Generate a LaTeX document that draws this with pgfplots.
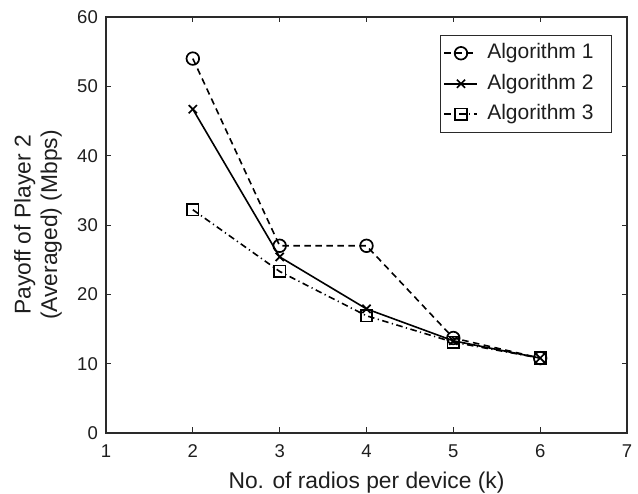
\documentclass[border=0pt]{standalone}
\usepackage{fontspec}
\setmainfont{Liberation Sans}
\usepackage{pgfplots}
\pgfplotsset{compat=1.18}

\definecolor{axisgray}{HTML}{2A2A2A}
\definecolor{textgray}{HTML}{1E1E1E}

\begin{document}
\fontsize{22.8}{26.5}\selectfont
\begin{tikzpicture}
\begin{axis}[
  scale only axis,
  width=521pt, height=416pt,
  at={(0,0)}, anchor=south west,
  xmin=1, xmax=7, ymin=0, ymax=60,
  xtick={1,2,...,7},
  ytick={0,10,...,60},
  tick align=inside,
  major tick length=5.5pt,
  axis line style={axisgray, line width=1.2pt},
  every tick/.style={axisgray, line width=0.9pt},
  /pgf/number format/assume math mode=true,
  tick label style={font=\fontsize{18.5}{21}\selectfont, text=textgray},
  xticklabel style={anchor=base, inner sep=0pt, yshift=-25pt},
  yticklabel style={anchor=east, inner sep=0pt, xshift=-8pt},
  label style={text=textgray},
  xlabel={No. of radios per device (k)},
  ylabel={Payoff of Player 2\\(Averaged) (Mbps)},
  xlabel style={at={(axis description cs:0.5,0)}, anchor=base, inner sep=0pt, yshift=-56pt},
  ylabel style={at={(axis description cs:-0.0845,0.5)}, anchor=south, inner sep=0pt, align=center},
  legend style={at={(0.9712,0.9567)}, anchor=north east, draw=axisgray, line width=1pt,
    inner xsep=3pt, inner ysep=6pt, row sep=7pt, column sep=5pt,
    nodes={inner xsep=4pt, inner ysep=2pt, text height=15pt, text depth=4.5pt, text=textgray},
    font=\fontsize{21}{24}\selectfont},
  legend cell align=left,
  legend image code/.code={%
    \draw[mark repeat=2, mark phase=2, #1] plot coordinates {(0pt,0pt) (16.5pt,0pt) (33pt,0pt)};},
  every axis plot/.append style={line width=1.6pt, black},
]
\addplot[dash pattern=on 6.5pt off 4.5pt, mark=o, mark size=6.3pt, mark options={solid, line width=1.7pt}]
  coordinates {(2,54.0) (3,27.0) (4,27.0) (5,13.7) (6,10.8)};
\addlegendentry{Algorithm 1\hspace*{11pt}}
\addplot[solid, mark=x, mark size=5.8pt, mark options={solid, line width=1.7pt}]
  coordinates {(2,46.7) (3,25.4) (4,17.9) (5,13.3) (6,10.8)};
\addlegendentry{Algorithm 2\hspace*{11pt}}
\addplot[dash pattern=on 6.5pt off 3.5pt on 1.2pt off 3.5pt, mark=square, mark size=5.8pt, mark options={solid, line width=1.7pt}]
  coordinates {(2,32.2) (3,23.3) (4,16.9) (5,13.1) (6,10.8)};
\addlegendentry{Algorithm 3\hspace*{11pt}}
\end{axis}
\path (-106pt,-61pt) rectangle (532pt,433pt);
\end{tikzpicture}
\end{document}
